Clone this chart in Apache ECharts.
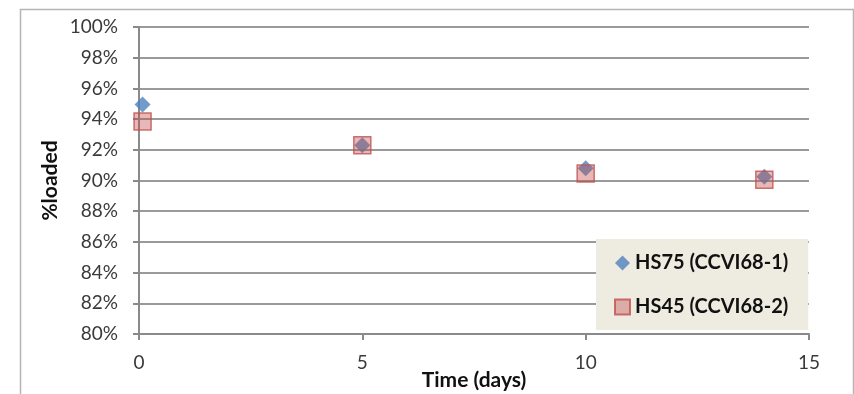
<!DOCTYPE html>
<html>
<head>
<meta charset="utf-8">
<script src="https://cdn.jsdelivr.net/npm/echarts@6/dist/echarts.min.js"></script>
<style>
  html, body { margin: 0; padding: 0; background: #fff; }
  #chart { width: 854px; height: 394px; }
</style>
</head>
<body>
<div id="chart"></div>
<script>
// Loading over time for two samples
const seriesNames = ['HS75 (CCVI68-1)', 'HS45 (CCVI68-2)'];
const hs75Days = [0.08, 5, 10, 14];
const hs75Loaded = [94.95, 92.3, 90.8, 90.25];
const hs45Days = [0.08, 5, 10, 14];
const hs45Loaded = [93.85, 92.3, 90.45, 90.05];

const font = 'Lato';
const pair = (xs, ys) => xs.map((x, i) => [x, ys[i]]);

const chart = echarts.init(document.getElementById('chart'), null, { renderer: 'canvas' });
chart.setOption({
  animation: false,
  backgroundColor: '#ffffff',
  textStyle: { fontFamily: font },
  graphic: [{
    type: 'rect',
    left: 18, top: 7,
    shape: { width: 833, height: 400 },
    style: { fill: 'none', stroke: '#b5b5b5', lineWidth: 1.5 },
    silent: true, z: -1
  }],
  grid: {
    left: 139, right: 45, top: 27, bottom: 60,
    containLabel: false, outerBoundsMode: 'none'
  },
  legend: {
    orient: 'vertical',
    left: 596, top: 239,
    padding: [14, 20, 13, 18],
    itemGap: 24,
    itemWidth: 15, itemHeight: 15,
    backgroundColor: '#eeece1',
    textStyle: { fontFamily: font, fontWeight: 'bold', fontSize: 20, color: '#111' },
    data: [
      { name: seriesNames[0], icon: 'diamond' },
      { name: seriesNames[1], icon: 'rect' }
    ]
  },
  xAxis: {
    type: 'value', min: 0, max: 15, interval: 5,
    name: 'Time (days)', nameLocation: 'middle', nameGap: 36, nameMoveOverlap: false,
    nameTextStyle: { fontFamily: font, fontWeight: 'bold', fontSize: 21, color: '#111' },
    axisLine: { show: true, lineStyle: { color: '#8a8a8a', width: 2 } },
    axisTick: { show: true, inside: false, length: 6, lineStyle: { color: '#8a8a8a', width: 2 } },
    axisLabel: { fontSize: 19, color: '#3a3a3a', margin: 19 },
    splitLine: { show: false }
  },
  yAxis: {
    type: 'value', min: 80, max: 100, interval: 2,
    name: '%loaded', nameLocation: 'middle', nameGap: 78, nameMoveOverlap: false, nameRotate: 90,
    nameTextStyle: { fontFamily: font, fontWeight: 'bold', fontSize: 21, color: '#111' },
    axisLine: { show: true, lineStyle: { color: '#8a8a8a', width: 2 } },
    axisTick: { show: true, inside: false, length: 6, lineStyle: { color: '#8a8a8a', width: 2 } },
    axisLabel: { fontSize: 19, color: '#3a3a3a', margin: 21, formatter: v => v + '%' },
    splitLine: { show: true, lineStyle: { color: '#9a9a9a', width: 2 } }
  },
  series: [
    {
      name: seriesNames[0], type: 'scatter',
      symbol: 'diamond', symbolSize: 16,
      itemStyle: { color: '#4f81bd' },
      data: pair(hs75Days, hs75Loaded), z: 2
    },
    {
      name: seriesNames[1], type: 'scatter',
      symbol: 'rect', symbolSize: 17,
      itemStyle: { color: 'rgba(192,80,77,0.5)', borderColor: '#c0504d', borderWidth: 1.5 },
      data: pair(hs45Days, hs45Loaded), z: 3
    }
  ]
});
</script>
</body>
</html>
